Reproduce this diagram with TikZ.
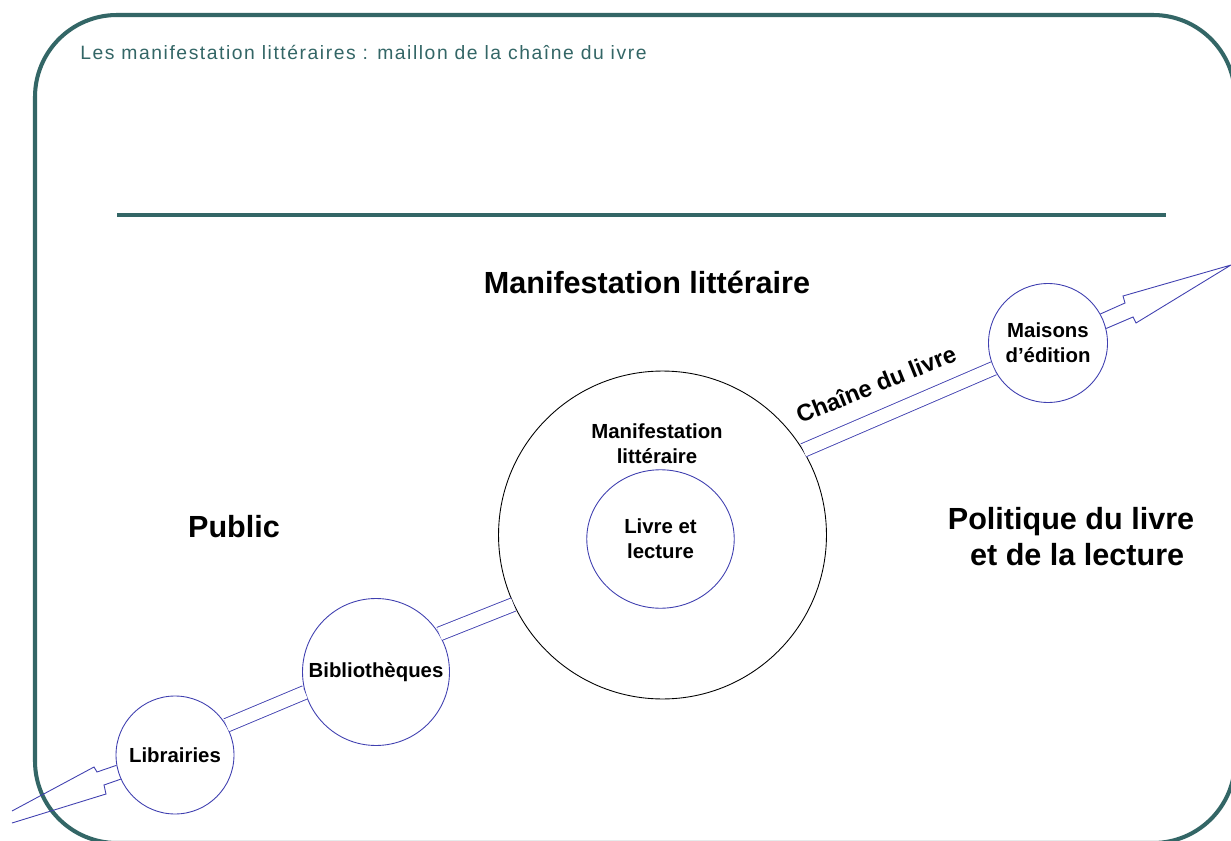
\documentclass[tikz,border=0pt]{standalone}
\usepackage{fontspec}
\setmainfont{Liberation Sans}
\usetikzlibrary{shapes.geometric}
\definecolor{cadre}{RGB}{51,102,102}
\definecolor{bleu}{RGB}{64,64,176}
\tikzset{
    rond/.style={circle, draw=bleu, line width=0.5pt, inner sep=0pt, align=center,
        font=\bfseries\fontsize{11.6}{14}\selectfont},
    chaine/.style={draw=bleu, line width=0.5pt, double=white, double distance=7.4pt},
    fleche/.style={draw=bleu, line width=0.5pt},
    grand/.style={align=center, font=\bfseries\fontsize{17.4}{20.5}\selectfont}
}
\begin{document}
\begin{tikzpicture}[x=0.02cm, y=-0.02cm]
    \useasboundingbox (0,0) rectangle (1231,841);
    \fill[white] (0,0) rectangle (1231,841);
    \clip (0,0) rectangle (1231,841);
    % cadre de la diapo
    \draw[cadre, line width=2.3pt, rounded corners=1.64cm] (35,15) rectangle (1235,843);
    \node[anchor=west, text=cadre, inner sep=0pt,
        font=\fontsize{11}{13}\selectfont\addfontfeature{LetterSpace=8}] (titre) at (80,52)
        {Les manifestation littéraires : maillon de la chaîne du ivre};
    \draw[cadre, line width=2.8pt] (117,215) -- (1166,215);
    % titres
    \node[grand] (manifestation) at (647,282) {Manifestation littéraire};
    \node[grand] (public) at (234,527) {Public};
    \node[grand] (politique) at (1071,537) {Politique du livre\\ \hspace{7pt}et de la lecture};
    % les cercles
    \node[rond, minimum size=2.36cm] (libr) at (175,755) {Librairies};
    \node[rond, minimum size=2.94cm] (biblio) at (376,672) {Bibliothèques};
    \node[circle, draw=black, line width=0.5pt, minimum size=6.56cm] (manif) at (662.5,535) {};
    \node[align=center, font=\bfseries\fontsize{11.6}{14}\selectfont] (manifTxt) at (657,444) {Manifestation\\littéraire};
    \node[ellipse, draw=bleu, line width=0.5pt, inner sep=0pt, minimum width=2.95cm, minimum height=2.77cm,
        align=center, font=\bfseries\fontsize{11.6}{14}\selectfont] (livre) at (660.5,539) {Livre et\\lecture};
    \node[rond, minimum size=2.38cm] (maisons) at (1048,343) {Maisons\\d’édition};
    % chaine du livre
    \draw[chaine] (libr.30) -- (biblio.196);
    \draw[chaine] (biblio.31) -- (manif.205);
    \draw[chaine] (manif.31) -- (maisons.205);
    \node[rotate=22, inner sep=0pt, font=\bfseries\fontsize{13.5}{16}\selectfont] (chaineTxt) at (876,384) {Chaîne du livre};
    % fleches aux deux bouts
    \coordinate (pointe) at (1231,265);
    \draw[fleche] (maisons.29) -- (1125,303) -- (1123,296) -- (pointe) -- (1136,323) -- (1133,317) -- (maisons.14);
    \draw[fleche] (libr.190) -- (97,772) -- (94,767) -- (12,811);
    \draw[fleche] (libr.204) -- (104,785) -- (106,794) -- (12,823);
\end{tikzpicture}
\end{document}
